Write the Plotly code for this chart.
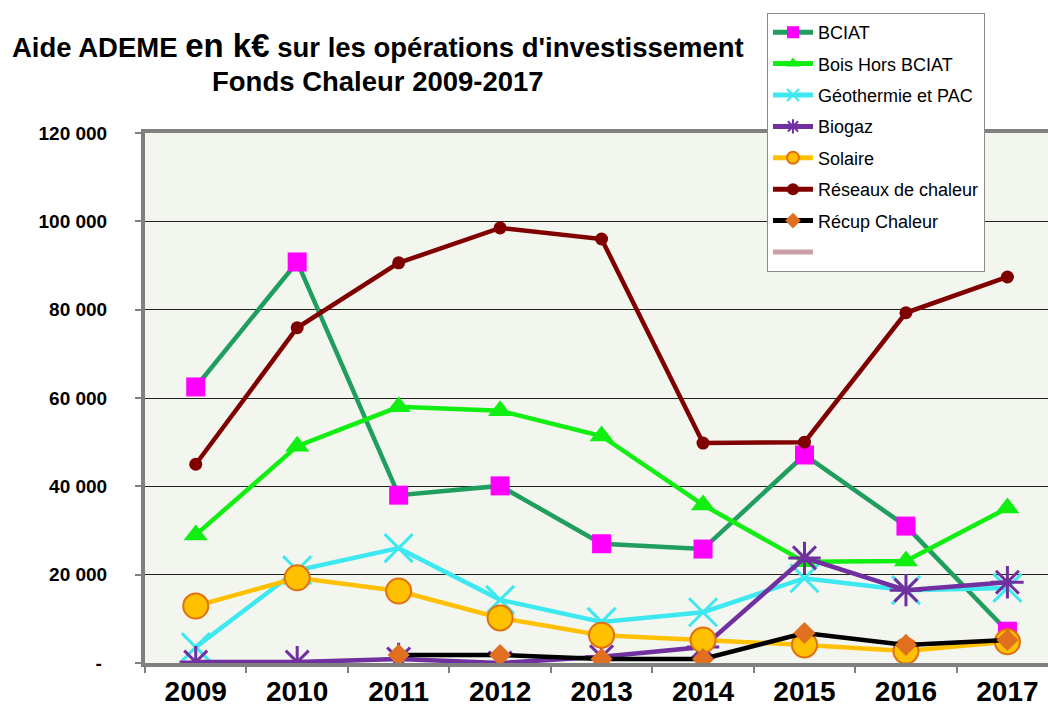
import plotly.graph_objects as go

years = ["2009", "2010", "2011", "2012", "2013", "2014", "2015", "2016", "2017"]

bciat = [62500, 90800, 38000, 40100, 27000, 25800, 47100, 31000, 7200]
bois_hors_bciat = [29000, 49100, 58000, 57100, 51400, 35800, 22900, 23100, 35100]
geothermie_pac = [3600, 21000, 26000, 14300, 9300, 11500, 19200, 16500, 17000]
biogaz = [200, 200, 900, 0, 1400, 3600, 23800, 16500, 18300]
solaire = [12900, 19300, 16300, 10200, 6300, 5200, 4100, 2700, 4800]
reseaux_chaleur = [45000, 75900, 90600, 98500, 96000, 49800, 50000, 79300, 87400]
recup_chaleur = [None, None, 1800, 1800, 900, 900, 6800, 4100, 5200]

y_tickvals = [0, 20000, 40000, 60000, 80000, 100000, 120000]
y_ticktext = ["-\u00a0", "20 000", "40 000", "60 000", "80 000", "100 000", "120 000"]

FONT = "Liberation Sans, Arial, sans-serif"

series = [
    ("BCIAT", bciat, "#1f9e5e", dict(symbol="square", size=19, color="#ff00ff", line=dict(width=0))),
    ("Bois Hors BCIAT", bois_hors_bciat, "#11ee11", dict(symbol="triangle-up", size=21, color="#11ee11", line=dict(width=0))),
    ("Géothermie et PAC", geothermie_pac, "#3ee8f0", dict(symbol="x-thin-open", size=28, color="#3ee8f0", line=dict(width=3, color="#3ee8f0"))),
    ("Biogaz", biogaz, "#7030a0", dict(symbol="asterisk-open", size=27, color="#7030a0", line=dict(width=3, color="#7030a0"))),
    ("Solaire", solaire, "#ffc000", dict(symbol="circle", size=25, color="#ffc000", line=dict(width=2, color="#e07010"))),
    ("Réseaux de chaleur", reseaux_chaleur, "#800000", dict(symbol="circle", size=13, color="#800000", line=dict(width=0))),
    ("Récup Chaleur", recup_chaleur, "#000000", dict(symbol="diamond", size=17, color="#e07020", line=dict(width=0))),
]

fig = go.Figure()
for i, (name, vals, lc, mk) in enumerate(series):
    fig.add_trace(go.Scatter(
        x=years, y=vals, name=name, mode="lines+markers",
        line=dict(color=lc, width=4.5), marker=mk,
        legendgroup=f"g{i}", connectgaps=False,
    ))

# empty legend entry (as in the original)
fig.add_trace(go.Scatter(
    x=years, y=[None] * len(years), name="", mode="lines",
    line=dict(color="#cc9fa8", width=4.5), legendgroup="g7",
))

fig.update_layout(
    width=1048, height=711,
    margin=dict(l=145, r=0, t=133, b=48),
    paper_bgcolor="white",
    plot_bgcolor="#f3f5ef",
    font=dict(family=FONT, color="black"),
    showlegend=True,
    legend=dict(
        x=0.6888, y=1.2264, xanchor="left", yanchor="top",
        bgcolor="white", bordercolor="#8c8c8c", borderwidth=1,
        font=dict(size=18, family=FONT, color="black"),
        itemsizing="constant", itemwidth=40, tracegroupgap=5,
    ),
    xaxis=dict(
        type="category", range=[-0.5, 8.4],
        showgrid=False, showline=True, linecolor="#808080", linewidth=4,
        mirror=True, ticks="outside", tickson="boundaries", ticklen=6,
        tickcolor="#808080", tickwidth=2,
        tickfont=dict(size=28, family=FONT, weight="bold"),
        automargin=False,
    ),
    yaxis=dict(
        range=[0, 120000], tickvals=y_tickvals, ticktext=y_ticktext,
        showgrid=True, gridcolor="#202020", gridwidth=1,
        showline=True, linecolor="#808080", linewidth=4,
        ticks="outside", ticklen=6, tickcolor="#808080", tickwidth=2,
        ticklabelstandoff=24,
        tickfont=dict(size=19, family=FONT, weight="bold"),
        zeroline=False, automargin=False,
    ),
    annotations=[
        dict(text="<b>Aide ADEME <span style='font-size:33px'>en k€</span> sur les opérations d'investissement</b>",
             xref="paper", yref="paper", x=0.258, y=1.165, xanchor="center", yanchor="middle",
             showarrow=False, font=dict(size=27.5, family=FONT, color="black")),
        dict(text="<b>Fonds Chaleur 2009-2017</b>",
             xref="paper", yref="paper", x=0.258, y=1.097, xanchor="center", yanchor="middle",
             showarrow=False, font=dict(size=27.5, family=FONT, color="black")),
    ],
)

fig.write_html("out.html", config={"displayModeBar": False},
               post_script="document.body.style.margin='0px';")
